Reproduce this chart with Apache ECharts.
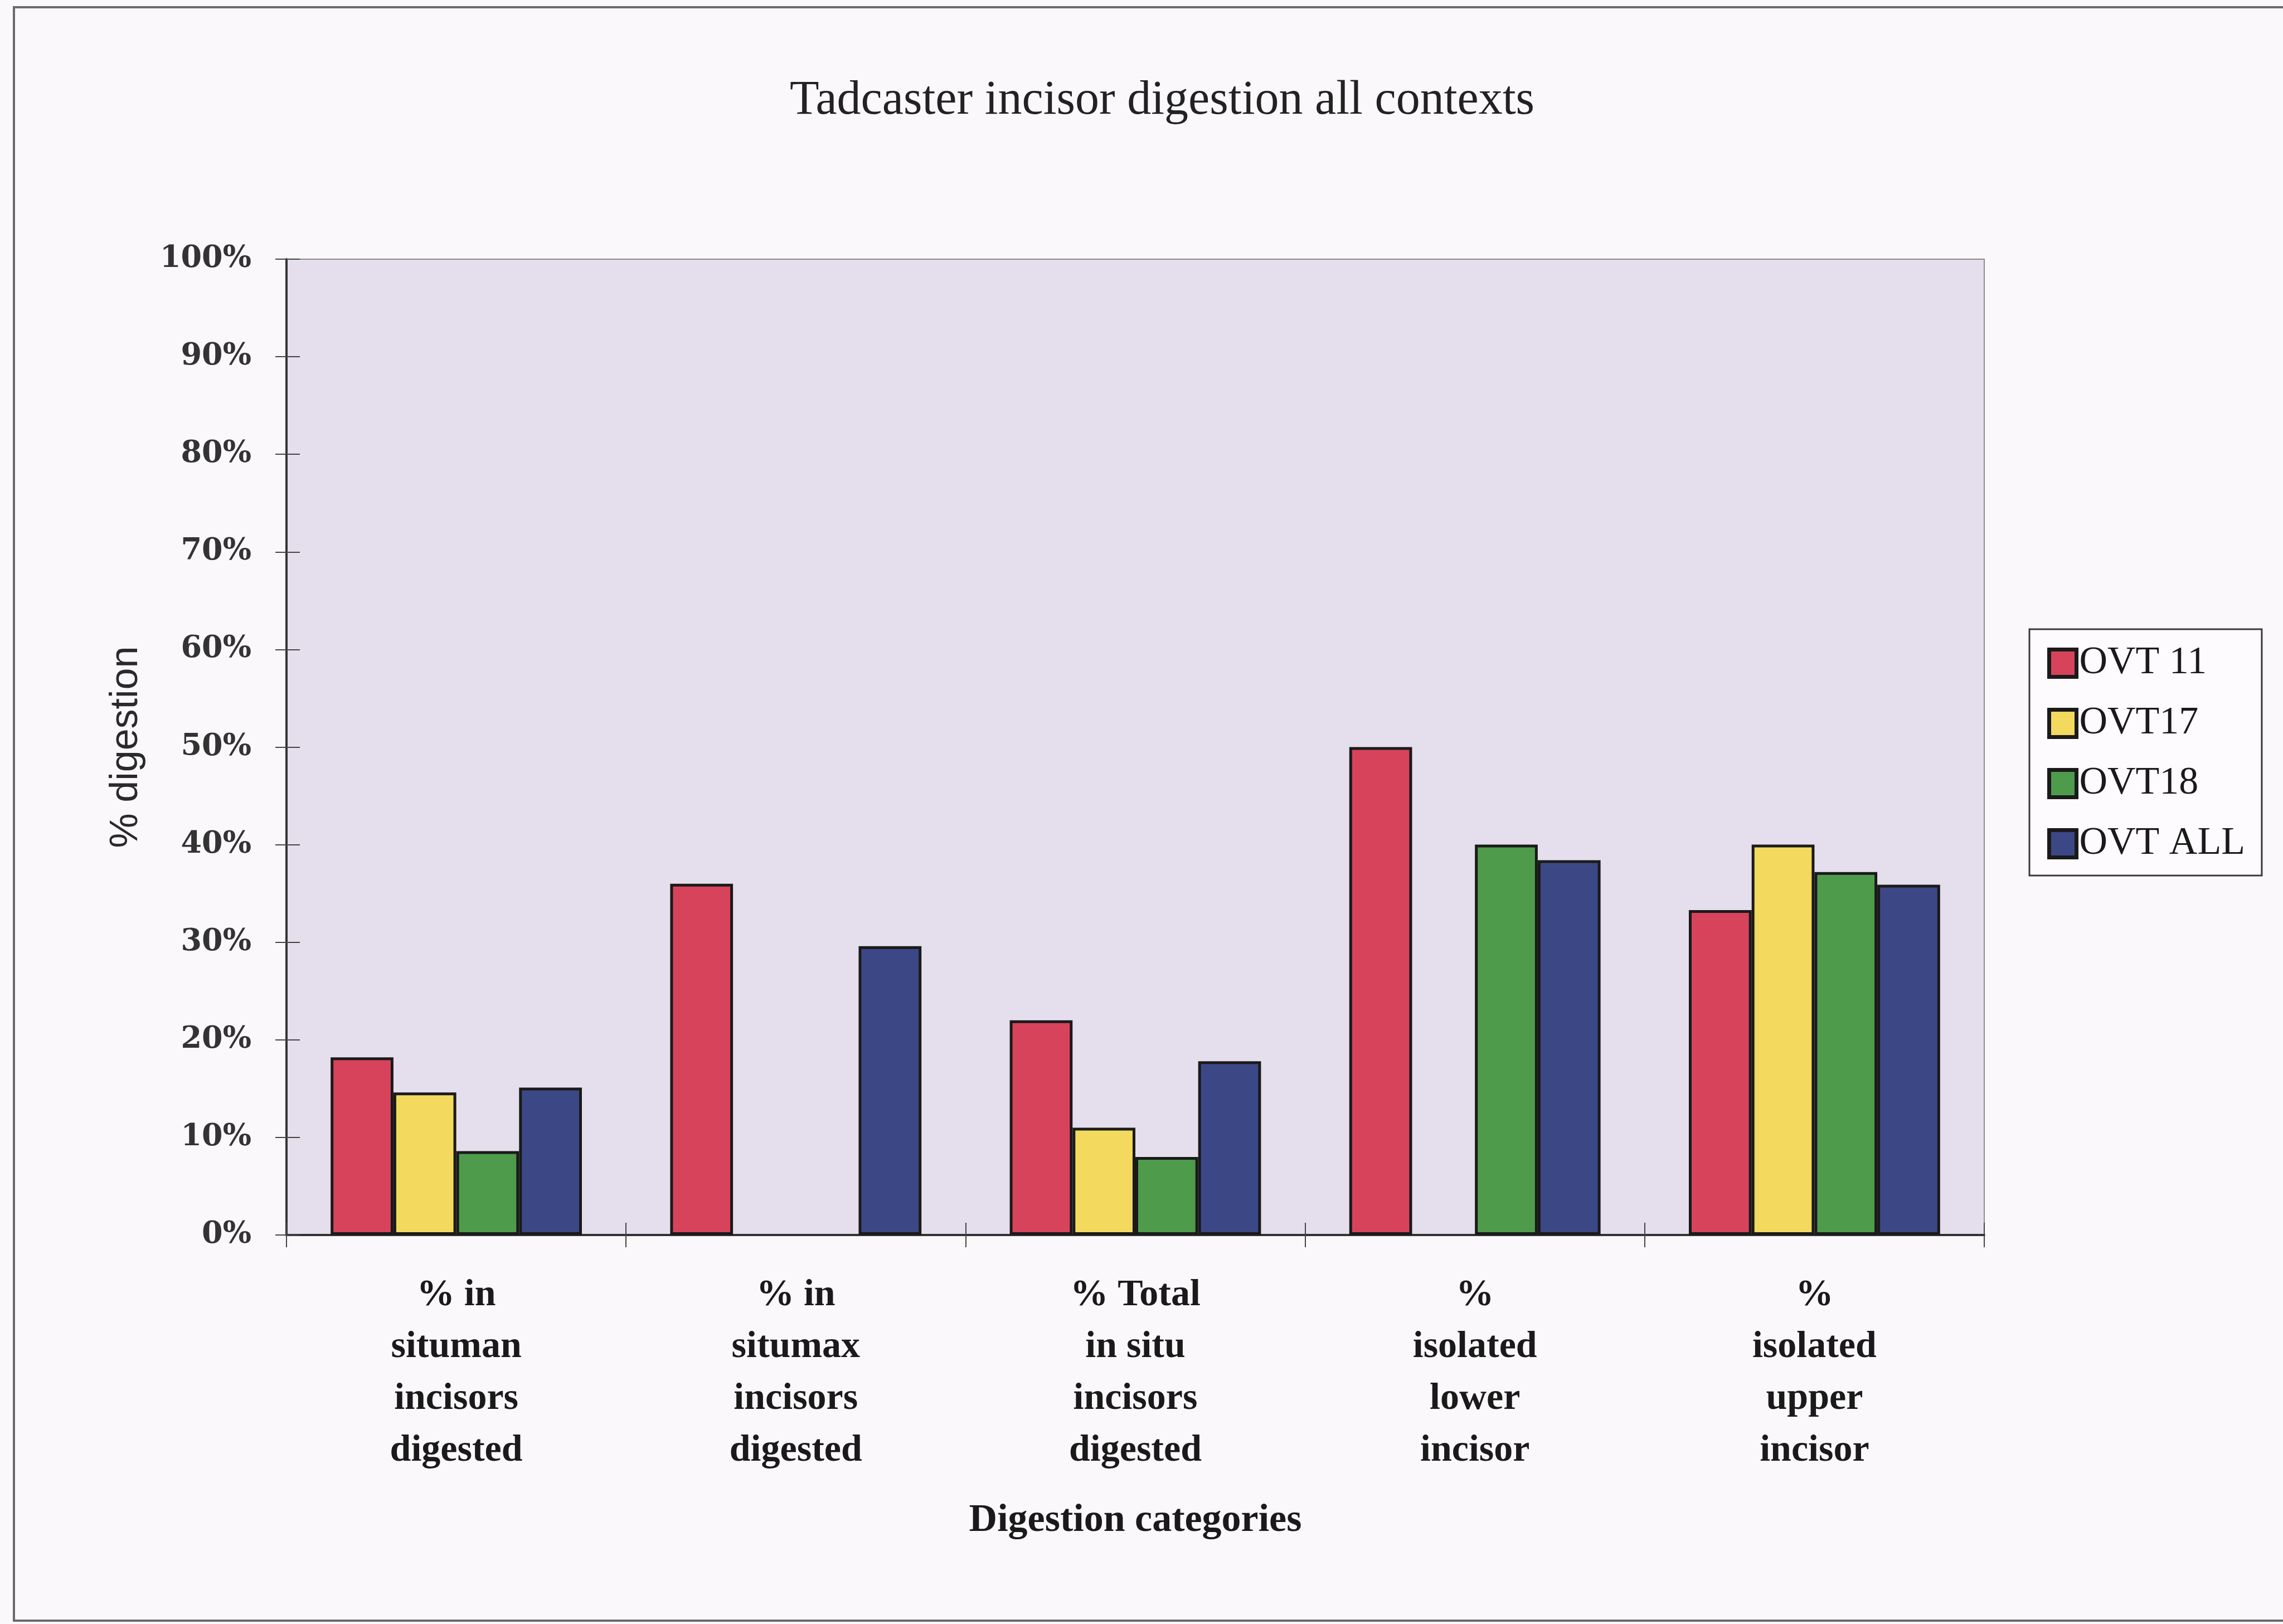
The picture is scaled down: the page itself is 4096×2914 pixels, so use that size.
<!DOCTYPE html>
<html>
<head>
<meta charset="utf-8">
<script src="https://cdn.jsdelivr.net/npm/echarts@6/dist/echarts.min.js"></script>
<style>
  html, body { margin: 0; padding: 0; background: #fbf8fc; }
  #chart { width: 4096px; height: 2914px; }
</style>
</head>
<body>
<div id="chart"></div>
<script>
// Digestion categories (wrapped onto several lines as printed)
const categories = [
  '% in\nsituman\nincisors\ndigested',
  '% in\nsitumax\nincisors\ndigested',
  '% Total\nin situ\nincisors\ndigested',
  '%\nisolated\nlower\nincisor',
  '%\nisolated\nupper\nincisor'
];

// Percentage of incisors digested, per context
const ovt11  = [18.2, 36.0, 22.0, 50.0, 33.3];
const ovt17  = [14.6, null, 11.0, null, 40.0];
const ovt18  = [8.6,  null, 8.0,  40.0, 37.2];
const ovtAll = [15.1, 29.6, 17.8, 38.4, 35.9];

const seriesNames  = ['OVT 11', 'OVT17', 'OVT18', 'OVT ALL'];
const seriesValues = [ovt11, ovt17, ovt18, ovtAll];
const seriesColors = ['#d8435c', '#f3d95d', '#4e9b4b', '#3c4886'];

// Value axis ticks (percent)
const yMin = 0, yMax = 100, yStep = 10;

const GRID = { left: 514, top: 465, width: 3046, height: 1751 };

const chart = echarts.init(document.getElementById('chart'), null, { renderer: 'canvas' });

const option = {
  backgroundColor: '#fbf8fc',
  animation: false,
  title: {
    text: 'Tadcaster incisor digestion all contexts',
    left: 2085,
    top: 138,
    textAlign: 'center',
    padding: 0,
    textStyle: {
      fontFamily: 'Liberation Serif',
      fontWeight: 'normal',
      fontSize: 86,
      color: '#222'
    }
  },
  legend: {
    data: seriesNames,
    orient: 'vertical',
    left: 3641,
    top: 1129,
    padding: [26, 30, 22, 32],
    itemWidth: 49,
    itemHeight: 49,
    itemGap: 38,
    icon: 'rect',
    backgroundColor: '#fdfbfe',
    borderColor: '#3a3a3a',
    borderWidth: 3,
    itemStyle: { borderColor: '#1a1a1a', borderWidth: 7 },
    textStyle: {
      fontFamily: 'Liberation Serif',
      fontSize: 70,
      lineHeight: 70,
      color: '#1a1a1a'
    }
  },
  grid: {
    left: GRID.left, top: GRID.top, width: GRID.width, height: GRID.height,
    show: true,
    backgroundColor: '#e5deec',
    borderColor: '#8c8c8c',
    borderWidth: 2
  },
  xAxis: [
    {
      type: 'category',
      data: categories,
      position: 'bottom',
      name: 'Digestion categories',
      nameLocation: 'middle',
      nameGap: 478,
      nameTextStyle: {
        fontFamily: 'Liberation Serif',
        fontWeight: 'bold',
        fontSize: 70,
        color: '#1a1a1a'
      },
      axisLine: { show: true, lineStyle: { color: '#333', width: 4 } },
      axisTick: { show: true, inside: false, length: 22, lineStyle: { color: '#444', width: 2 } },
      axisLabel: {
        interval: 0,
        margin: 62,
        fontFamily: 'Liberation Serif',
        fontWeight: 'bold',
        fontSize: 68,
        lineHeight: 93,
        color: '#1a1a1a'
      },
      splitLine: { show: false }
    },
    {
      // second copy of the category axis, laid on the bottom edge, for ticks crossing into the plot
      type: 'category',
      data: categories,
      position: 'top',
      offset: -GRID.height,
      axisLine: { show: false },
      axisTick: { show: true, inside: false, length: 22, lineStyle: { color: '#444', width: 2 } },
      axisLabel: { show: false },
      splitLine: { show: false }
    }
  ],
  yAxis: [
    {
      type: 'value',
      min: yMin, max: yMax, interval: yStep,
      position: 'left',
      name: '% digestion',
      nameLocation: 'middle',
      nameRotate: 90,
      nameGap: 252,
      nameTextStyle: {
        fontFamily: 'Liberation Sans',
        fontSize: 70,
        color: '#2a2a2a'
      },
      axisLine: { show: true, lineStyle: { color: '#333', width: 4 } },
      axisTick: { show: true, inside: false, length: 20, lineStyle: { color: '#444', width: 2 } },
      axisLabel: {
        margin: 63,
        formatter: '{value}%',
        fontFamily: 'DejaVu Serif',
        fontWeight: 'bold',
        fontSize: 54,
        color: '#333'
      },
      splitLine: { show: false }
    },
    {
      // mirror of the value axis on the left edge, ticks pointing into the plot
      type: 'value',
      min: yMin, max: yMax, interval: yStep,
      position: 'right',
      offset: -GRID.width,
      axisLine: { show: false },
      axisTick: { show: true, inside: false, length: 24, lineStyle: { color: '#444', width: 2 } },
      axisLabel: { show: false },
      splitLine: { show: false }
    }
  ],
  series: seriesNames.map((name, i) => ({
    name: name,
    type: 'bar',
    xAxisIndex: 0,
    yAxisIndex: 0,
    data: seriesValues[i],
    barGap: '0%',
    barCategoryGap: '26%',
    itemStyle: {
      color: seriesColors[i],
      borderColor: '#1a1a1a',
      borderWidth: 5
    }
  })),
  graphic: [
    {
      // page frame
      type: 'rect',
      z: 100,
      silent: true,
      shape: { x: 25, y: 13, width: 4200, height: 2895 },
      style: { fill: 'none', stroke: '#6a6a6a', lineWidth: 4 }
    }
  ]
};

chart.setOption(option);
</script>
</body>
</html>
